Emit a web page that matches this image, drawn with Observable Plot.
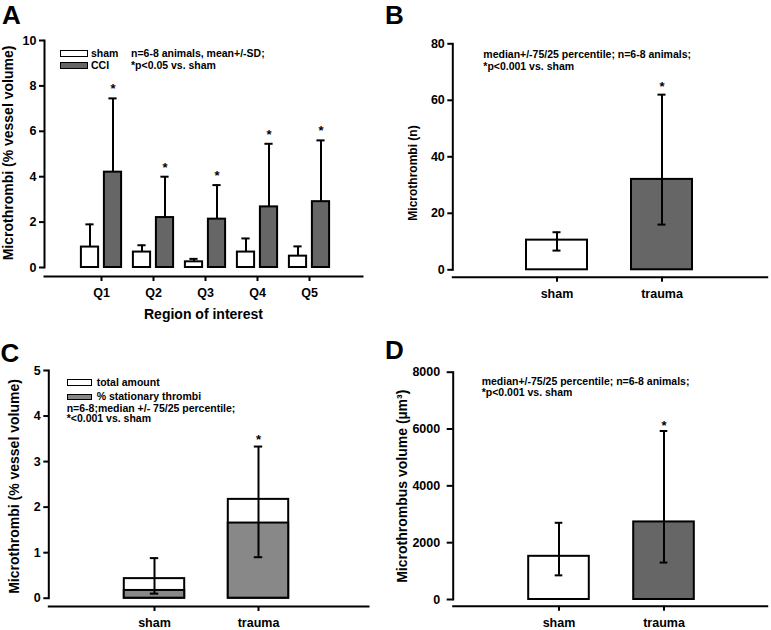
<!DOCTYPE html>
<html><head><meta charset="utf-8">
<script src="https://cdn.jsdelivr.net/npm/d3@7"></script>
<script src="https://cdn.jsdelivr.net/npm/@observablehq/plot@0.6"></script>
<style>
body{margin:0;background:#fff;}
#fig{position:relative;width:771px;height:630px;overflow:hidden;font-family:"Liberation Sans",Arial,sans-serif;font-weight:bold;color:#000;background:#fff;}
.panel{position:absolute;}
.letter{position:absolute;font-size:26px;line-height:1;font-weight:bold;}
.note{position:absolute;font-size:10.5px;line-height:10px;white-space:nowrap;}
.sw{position:absolute;box-sizing:border-box;border:1.6px solid #000;}
</style></head><body><div id="fig"></div>
<script>
// ---- Panel A: microthrombi per region (mean + SD)
const regions = ["Q1","Q2","Q3","Q4","Q5"];
const shamMean = [0.9, 0.68, 0.25, 0.68, 0.5];
const shamUpper = [1.9, 0.98, 0.38, 1.28, 0.93];
const cciMean = [4.2, 2.2, 2.13, 2.67, 2.9];
const cciUpper = [7.45, 4.0, 3.63, 5.45, 5.6];
const ticksA = [0, 2, 4, 6, 8, 10];
// ---- Panel B: microthrombi count (median, 25/75 percentile)
const groups = ["sham", "trauma"];
const countMedian = [10.5, 32];
const countP25 = [6.8, 16];
const countP75 = [13.3, 62];
const ticksB = [0, 20, 40, 60, 80];
// ---- Panel C: % vessel volume, total and stationary
const totalMedian = [0.43, 2.17];
const stationaryMedian = [0.17, 1.65];
const totalP25 = [0.1, 0.9];
const totalP75 = [0.88, 3.33];
const ticksC = [0, 1, 2, 3, 4, 5];
// ---- Panel D: microthrombus volume
const volMedian = [1520, 2730];
const volP25 = [850, 1300];
const volP75 = [2700, 5930];
const ticksD = [0, 2000, 4000, 6000, 8000];

const FONT = '"Liberation Sans", Arial, sans-serif';
const DARK = "#666666", LIGHT = "#888888";
const TICKFS = 12.5;
const style = () => ({fontFamily: FONT, fontWeight: "bold", fontSize: "12px", background: "transparent", overflow: "visible", color: "#000"});
const fig = document.getElementById("fig");
function place(el, left, top) {
  const d = document.createElement("div");
  d.className = "panel"; d.style.left = left + "px"; d.style.top = top + "px";
  d.appendChild(el); fig.appendChild(d);
}
function addText(cls, txt, left, top) {
  const d = document.createElement("div");
  d.className = cls; d.textContent = txt;
  d.style.left = left + "px"; d.style.top = top + "px";
  fig.appendChild(d);
}
function addSwatch(left, top, w, h, fill) {
  const d = document.createElement("div");
  d.className = "sw"; d.style.left = left + "px"; d.style.top = top + "px";
  d.style.width = w + "px"; d.style.height = h + "px"; d.style.background = fill;
  fig.appendChild(d);
}

// ================= A =================
const dataA = regions.map((q, i) => ({q, sham: shamMean[i], shamHi: shamUpper[i], cci: cciMean[i], cciHi: cciUpper[i]}));
const plotA = Plot.plot({
  width: 385, height: 330, marginLeft: 44, marginRight: 23, marginTop: 40, marginBottom: 54,
  style: style(),
  x: {domain: regions, padding: 0, insetLeft: 29, insetRight: 25},
  y: {domain: [0, 10], insetBottom: 9},
  marks: [
    Plot.frame({anchor: "left", insetBottom: 9, strokeWidth: 2}),
    Plot.frame({anchor: "bottom", strokeWidth: 2}),
    Plot.axisY(ticksA, {tickSize: 5, tickPadding: 3, strokeWidth: 2, fontSize: TICKFS, label: null}),
    Plot.axisX({tickSize: 5, tickPadding: 7, strokeWidth: 2, fontSize: TICKFS, label: null}),
    Plot.barY(dataA, {x: "q", y: "sham", fill: "white", stroke: "black", strokeWidth: 2, insetLeft: 5.9, insetRight: 28.9}),
    Plot.barY(dataA, {x: "q", y: "cci", fill: DARK, stroke: "black", strokeWidth: 2, insetLeft: 28.9, insetRight: 5.9}),
    Plot.ruleX(dataA, {x: "q", y1: "sham", y2: "shamHi", dx: -11.5, strokeWidth: 2}),
    Plot.tickY(dataA, {x: "q", y: "shamHi", insetLeft: 10.4, insetRight: 33.4, strokeWidth: 2}),
    Plot.ruleX(dataA, {x: "q", y1: "cci", y2: "cciHi", dx: 11.5, strokeWidth: 2}),
    Plot.tickY(dataA, {x: "q", y: "cciHi", insetLeft: 33.4, insetRight: 10.4, strokeWidth: 2}),
    Plot.text(dataA, {x: "q", y: "cciHi", text: () => "*", dx: 11.5, dy: -5, lineAnchor: "bottom", fontSize: 13}),
    Plot.text(["Microthrombi (% vessel volume)"], {text: d => d, frameAnchor: "left", textAnchor: "middle", rotate: -90, dx: -35.5, dy: -5.5, fontSize: 14}),
    Plot.text(["Region of interest"], {text: d => d, frameAnchor: "bottom", textAnchor: "middle", dy: 42, fontSize: 14})
  ]
});
place(plotA, 0, 0);

// ================= B =================
const dataB = groups.map((g, i) => ({g, med: countMedian[i], lo: countP25[i], hi: countP75[i]}));
const plotB = Plot.plot({
  width: 386, height: 300, marginLeft: 67.3, marginRight: 4.3, marginTop: 43.3, marginBottom: 23.3,
  style: style(),
  x: {domain: groups, padding: 0, insetLeft: 51.9, insetRight: 52.5},
  y: {domain: [0, 80], insetBottom: 7.4},
  color: {domain: groups, range: ["white", DARK]},
  marks: [
    Plot.frame({anchor: "left", insetBottom: 7.4, strokeWidth: 2}),
    Plot.frame({anchor: "bottom", strokeWidth: 2}),
    Plot.axisY(ticksB, {tickSize: 5, tickPadding: 3, strokeWidth: 2, fontSize: TICKFS, label: null}),
    Plot.axisX({tickSize: 5, tickPadding: 7, strokeWidth: 2, fontSize: TICKFS, label: null}),
    Plot.barY(dataB, {x: "g", y: "med", fill: "g", stroke: "black", strokeWidth: 2, insetLeft: 22, insetRight: 22}),
    Plot.ruleX(dataB, {x: "g", y1: "lo", y2: "hi", strokeWidth: 2}),
    Plot.tickY(dataB, {x: "g", y: "lo", insetLeft: 48.5, insetRight: 48.5, strokeWidth: 2}),
    Plot.tickY(dataB, {x: "g", y: "hi", insetLeft: 48.5, insetRight: 48.5, strokeWidth: 2}),
    Plot.text(dataB.filter(d => d.g === "trauma"), {x: "g", y: "hi", text: () => "*", dy: -4, lineAnchor: "bottom", fontSize: 13}),
    Plot.text(["Microthrombi (n)"], {text: d => d, frameAnchor: "left", textAnchor: "middle", rotate: -90, dx: -39.3, dy: 12.5, fontSize: 12})
  ]
});
place(plotB, 385, 0);

// ================= C =================
const dataC = groups.map((g, i) => ({g, total: totalMedian[i], stat: stationaryMedian[i], lo: totalP25[i], hi: totalP75[i]}));
const plotC = Plot.plot({
  width: 385, height: 330, marginLeft: 48.3, marginRight: 17, marginTop: 70, marginBottom: 24,
  style: style(),
  x: {domain: groups, padding: 0, insetLeft: 52.7, insetRight: 57.7},
  y: {domain: [0, 5], insetBottom: 8.3},
  marks: [
    Plot.frame({anchor: "left", insetBottom: 8.3, strokeWidth: 2}),
    Plot.frame({anchor: "bottom", strokeWidth: 2}),
    Plot.axisY(ticksC, {tickSize: 5, tickPadding: 3, strokeWidth: 2, fontSize: TICKFS, label: null}),
    Plot.axisX({tickSize: 5, tickPadding: 7, strokeWidth: 2, fontSize: TICKFS, label: null}),
    Plot.barY(dataC, {x: "g", y: "total", fill: "white", stroke: "black", strokeWidth: 2, insetLeft: 21.8, insetRight: 21.8}),
    Plot.barY(dataC, {x: "g", y: "stat", fill: LIGHT, stroke: "black", strokeWidth: 2, insetLeft: 21.8, insetRight: 21.8}),
    Plot.ruleX(dataC, {x: "g", y1: "lo", y2: "hi", strokeWidth: 2}),
    Plot.tickY(dataC, {x: "g", y: "lo", insetLeft: 47.8, insetRight: 47.8, strokeWidth: 2}),
    Plot.tickY(dataC, {x: "g", y: "hi", insetLeft: 47.8, insetRight: 47.8, strokeWidth: 2}),
    Plot.text(dataC.filter(d => d.g === "trauma"), {x: "g", y: "hi", text: () => "*", dy: -3, lineAnchor: "bottom", fontSize: 13}),
    Plot.text(["Microthrombi (% vessel volume)"], {text: d => d, frameAnchor: "left", textAnchor: "middle", rotate: -90, dx: -34.3, dy: -2, fontSize: 14})
  ]
});
place(plotC, 0, 300);

// ================= D =================
const dataD = groups.map((g, i) => ({g, med: volMedian[i], lo: volP25[i], hi: volP75[i]}));
const plotD = Plot.plot({
  width: 386, height: 330, marginLeft: 67.7, marginRight: 4.3, marginTop: 71.7, marginBottom: 24.3,
  style: style(),
  x: {domain: groups, padding: 0, insetLeft: 52.6, insetRight: 50.7},
  y: {domain: [0, 8000], insetBottom: 6.7},
  color: {domain: groups, range: ["white", DARK]},
  marks: [
    Plot.frame({anchor: "left", insetBottom: 6.7, strokeWidth: 2}),
    Plot.frame({anchor: "bottom", strokeWidth: 2}),
    Plot.axisY(ticksD, {tickSize: 6, tickPadding: 7, strokeWidth: 2, fontSize: TICKFS, label: null, tickFormat: d => String(d)}),
    Plot.axisX({tickSize: 5, tickPadding: 7, strokeWidth: 2, fontSize: TICKFS, label: null}),
    Plot.barY(dataD, {x: "g", y: "med", fill: "g", stroke: "black", strokeWidth: 2, insetLeft: 22.2, insetRight: 22.2}),
    Plot.ruleX(dataD, {x: "g", y1: "lo", y2: "hi", strokeWidth: 2}),
    Plot.tickY(dataD, {x: "g", y: "lo", insetLeft: 48.7, insetRight: 48.7, strokeWidth: 2}),
    Plot.tickY(dataD, {x: "g", y: "hi", insetLeft: 48.7, insetRight: 48.7, strokeWidth: 2}),
    Plot.text(dataD.filter(d => d.g === "trauma"), {x: "g", y: "hi", text: () => "*", dy: -1, lineAnchor: "bottom", fontSize: 13}),
    Plot.text(["Microthrombus volume (µm³)"], {text: d => d, frameAnchor: "left", textAnchor: "middle", rotate: -90, dx: -50.7, dy: -3, fontSize: 14})
  ]
});
place(plotD, 385, 300);

// ================= letters, legends, notes =================
addText("letter", "A", 2, 1.6);
addText("letter", "B", 385, 1.6);
addText("letter", "C", 0.5, 340);
addText("letter", "D", 385, 336.6);

addSwatch(60, 49.5, 27.5, 7, "white");
addSwatch(60, 62, 27.5, 7, DARK);
addText("note", "sham", 91, 47.7);
addText("note", "CCI", 91, 60.3);
addText("note", "n=6-8 animals, mean+/-SD;", 131, 47.7);
addText("note", "*p<0.05 vs. sham", 131, 60.3);

addText("note", "median+/-75/25 percentile; n=6-8 animals;", 483.3, 49.3);
addText("note", "*p<0.001 vs. sham", 483.3, 61);

addSwatch(66.7, 379, 25.6, 6.5, "white");
addSwatch(66.7, 393.5, 25.6, 6.5, LIGHT);
addText("note", "total amount", 96.7, 376.7);
addText("note", "% stationary thrombi", 96.7, 390.5);
addText("note", "n=6-8;median +/- 75/25 percentile;", 66.7, 402.5);
addText("note", " *<0.001 vs. sham", 66.7, 413);

addText("note", "median+/-75/25 percentile; n=6-8 animals;", 481.7, 376.2);
addText("note", "*p<0.001 vs. sham", 481.7, 386.8);
</script></body></html>
